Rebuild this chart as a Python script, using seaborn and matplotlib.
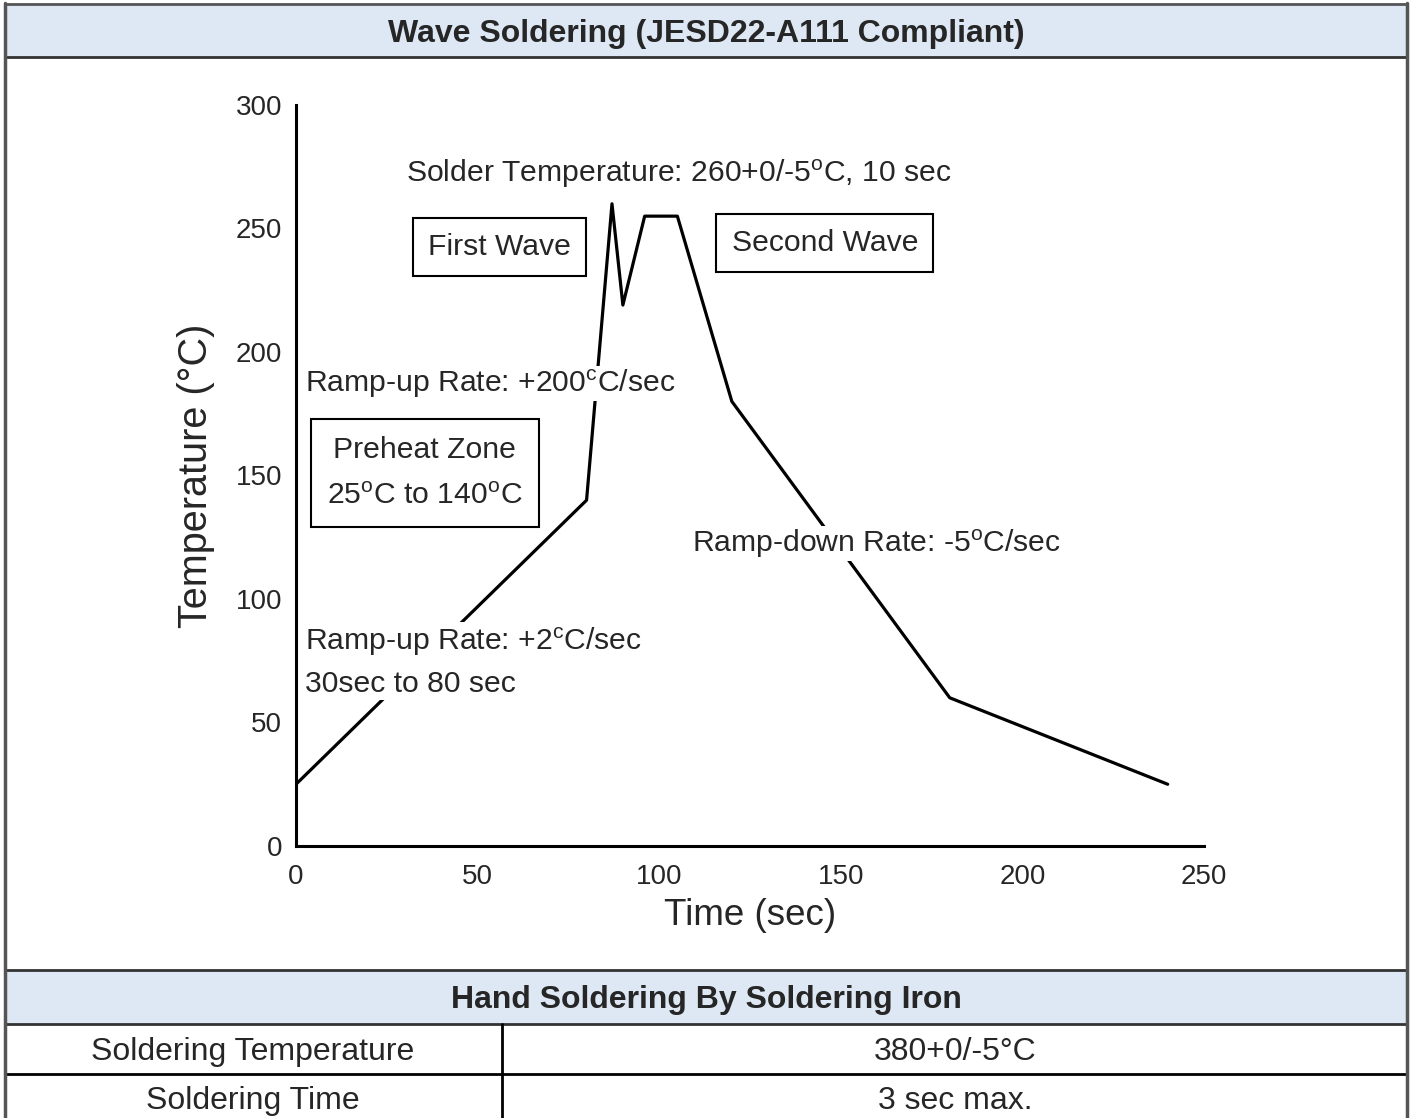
import seaborn as sns
sns.set_style("white")
import matplotlib.pyplot as plt
import pandas as pd
from matplotlib.patches import Rectangle
from matplotlib.lines import Line2D

plt.rcParams['font.family'] = ['Liberation Sans', 'DejaVu Sans']
plt.rcParams['mathtext.fontset'] = 'custom'
plt.rcParams['mathtext.rm'] = 'Liberation Sans'
plt.rcParams['mathtext.it'] = 'Liberation Sans'

# reflow profile (time in sec, temperature in C)
time_sec = [0, 80, 87, 90, 96, 105, 120, 180, 240]
temp_c = [25, 140, 260, 219, 255, 255, 180, 60, 25]
x_ticks = [0, 50, 100, 150, 200, 250]
y_ticks = [0, 50, 100, 150, 200, 250, 300]

hand_rows = ["Soldering Temperature", "Soldering Time"]
hand_vals = ["380+0/-5°C", "3 sec max."]

W, H = 1413, 1118
fig = plt.figure(figsize=(W / 100, H / 100), dpi=100)


def fx(px):
    return px / W


def fy(py):
    return 1 - py / H


# ---- table frame (header bands, grid lines) ----
blue = "#dde8f4"
fig.patches.append(Rectangle((fx(5), fy(57)), fx(1402), 54 / H, transform=fig.transFigure,
                             facecolor=blue, edgecolor="none", zorder=0))
fig.patches.append(Rectangle((fx(5), fy(1024)), fx(1402), 54 / H, transform=fig.transFigure,
                             facecolor=blue, edgecolor="none", zorder=0))
for py, c in [(4, "#555555"), (57, "#333333"), (970, "#333333"), (1024, "#333333"), (1074, "black")]:
    fig.lines.append(Line2D([fx(5), fx(1407)], [fy(py), fy(py)], transform=fig.transFigure,
                            color=c, lw=2))
for px in [5, 1407]:
    fig.lines.append(Line2D([fx(px), fx(px)], [fy(3), fy(1118)], transform=fig.transFigure,
                            color="#555555", lw=2.5))
fig.lines.append(Line2D([fx(502), fx(502)], [fy(1024), fy(1118)], transform=fig.transFigure,
                        color="black", lw=2))

fig.text(fx(706), fy(34), "Wave Soldering (JESD22-A111 Compliant)", ha="center", va="center",
         fontsize=23, fontweight="bold")
fig.text(fx(706), fy(1000), "Hand Soldering By Soldering Iron", ha="center", va="center",
         fontsize=23, fontweight="bold")
for i, (lab, val) in enumerate(zip(hand_rows, hand_vals)):
    yy = fy(1052 + i * 49)
    fig.text(fx(253), yy, lab, ha="center", va="center", fontsize=23)
    fig.text(fx(955), yy, val, ha="center", va="center", fontsize=23)

# ---- profile chart ----
ax = fig.add_axes([fx(296), fy(846), fx(1204) - fx(296), (846 - 105) / H])
df = pd.DataFrame({"time": time_sec, "temp": temp_c})
sns.lineplot(data=df, x="time", y="temp", ax=ax, color="black", lw=2.3, sort=False)
ax.set_xlim(0, 250)
ax.set_ylim(0, 300)
ax.set_xticks(x_ticks)
ax.set_yticks(y_ticks)
ax.tick_params(length=0, labelsize=20)
ax.tick_params(axis="x", pad=13)
ax.tick_params(axis="y", pad=10)
for s in ["top", "right"]:
    ax.spines[s].set_visible(False)
for s in ["left", "bottom"]:
    ax.spines[s].set_color("black")
    ax.spines[s].set_linewidth(2.2)
ax.set_xlabel("Time (sec)", fontsize=26.5, labelpad=6)
ax.set_ylabel("Temperature (°C)", fontsize=28.5, labelpad=15)

deg = r"$^\mathrm{o}$"
fs = 21.7
ax.text(30.3, 272, "Solder Temperature: 260+0/-5" + deg + "C, 10 sec", fontsize=fs,
        ha="left", va="center")
box = dict(boxstyle="square,pad=0.5", facecolor="white", edgecolor="black", lw=1.5)
ax.text(55.9, 242.5, "First Wave", fontsize=fs, ha="center", va="center", bbox=box)
ax.text(145.6, 244, "Second Wave", fontsize=fs, ha="center", va="center", bbox=box)
ax.text(2.5, 187.3, "Ramp-up Rate: +200" + r"$^\mathrm{c}$" + "C/sec", fontsize=fs,
        ha="left", va="center", bbox=dict(facecolor="white", edgecolor="none", pad=1))
ax.text(35.5, 151, "Preheat Zone\n25" + deg + "C to 140" + deg + "C", fontsize=fs,
        ha="center", va="center", linespacing=1.85,
        bbox=dict(boxstyle="square,pad=0.55", facecolor="white", edgecolor="black", lw=1.5))
ax.text(109, 122.5, "Ramp-down Rate: -5" + deg + "C/sec", fontsize=fs, ha="left", va="center",
        bbox=dict(facecolor="white", edgecolor="none", pad=1))
ax.text(2.5, 74.5, "Ramp-up Rate: +2" + r"$^\mathrm{c}$" + "C/sec\n30sec to 80 sec", fontsize=fs,
        ha="left", va="center", linespacing=1.55,
        bbox=dict(facecolor="white", edgecolor="none", pad=1))

fig.savefig("out.png", dpi=100)
